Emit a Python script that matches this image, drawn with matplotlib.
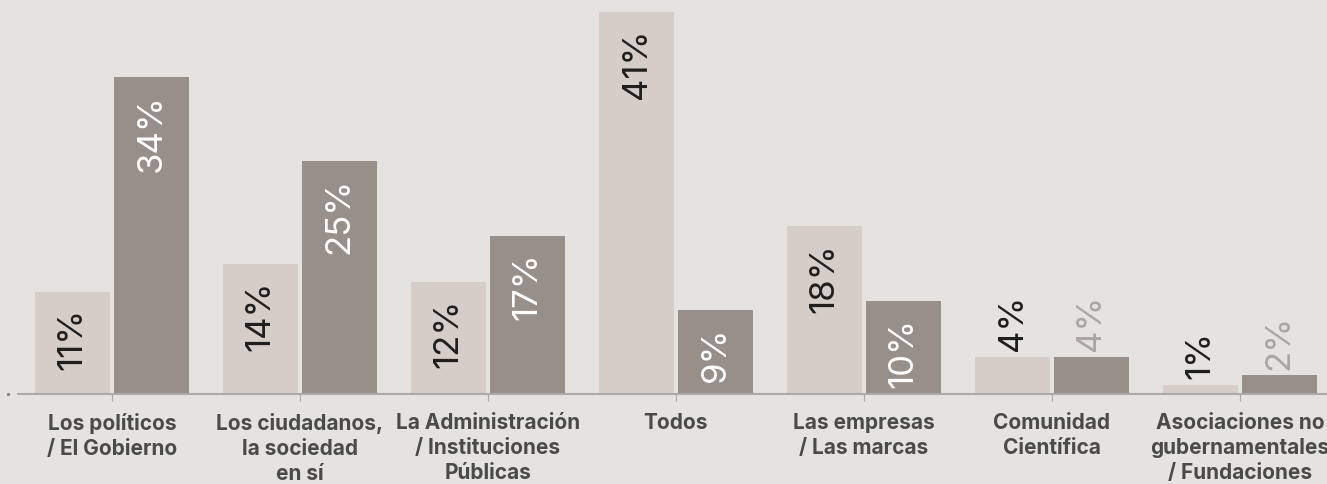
import numpy as np
import matplotlib.pyplot as plt

plt.rcParams['font.family'] = ['Inter', 'DejaVu Sans']

categorias = [
    "Los políticos\n/ El Gobierno",
    "Los ciudadanos,\nla sociedad\nen sí",
    "La Administración\n/ Instituciones\nPúblicas",
    "Todos",
    "Las empresas\n/ Las marcas",
    "Comunidad\nCientífica",
    "Asociaciones no\ngubernamentales\n/ Fundaciones",
]
serie_clara = [11, 14, 12, 41, 18, 4, 1]
serie_oscura = [34, 25, 17, 9, 10, 4, 2]

fondo = "#e5e3e0"
col_clara = "#d5cdc8"
col_oscura = "#978f89"

fig = plt.figure(figsize=(13.27, 4.84), dpi=100, facecolor=fondo)
ax = fig.add_axes([0, 90 / 484, 1, 394 / 484])
ax.set_facecolor(fondo)

x = np.arange(len(categorias))
w = 0.399
off = 0.21
ax.bar(x - off, serie_clara, width=w, color=col_clara)
ax.bar(x + off, serie_oscura, width=w, color=col_oscura)

ax.set_xlim(-112 / 188, (1327 - 112) / 188)
ax.set_ylim(0, 394 / 9.317)

for s in ax.spines.values():
    s.set_visible(False)
ax.set_yticks([])
ax.set_xticks(x)
ax.set_xticklabels(categorias, fontsize=15, fontweight='bold', color='#4a4a4a',
                   linespacing=1.3)
ax.tick_params(axis='x', length=5, color='#aaaaaa', pad=9)
ax.axhline(0, xmin=18 / 1327, xmax=1, color='#aaaaaa', lw=1.5, clip_on=False)
ax.plot([-104 / 188], [-0.05], marker='s', ms=1.2, color='#888888', clip_on=False)

# etiquetas de valor: dentro de la barra si cabe, encima si no
umbral = 8
for xi, v in zip(x - off, serie_clara):
    if v >= umbral:
        ax.annotate(f"{v}%", (xi, v), xytext=(0, -12), textcoords='offset points',
                    rotation=90, ha='center', va='top', fontsize=25,
                    color='#1e1e1e')
    else:
        ax.annotate(f"{v}%", (xi, v), xytext=(0, 4), textcoords='offset points',
                    rotation=90, ha='center', va='bottom', fontsize=25,
                    color='#1e1e1e')
for xi, v in zip(x + off, serie_oscura):
    if v >= umbral:
        ax.annotate(f"{v}%", (xi, v), xytext=(0, -12), textcoords='offset points',
                    rotation=90, ha='center', va='top', fontsize=25,
                    color='white')
    else:
        ax.annotate(f"{v}%", (xi, v), xytext=(0, 4), textcoords='offset points',
                    rotation=90, ha='center', va='bottom', fontsize=25,
                    color='#aba6a2')

fig.savefig("out.png", dpi=100, facecolor=fondo)
